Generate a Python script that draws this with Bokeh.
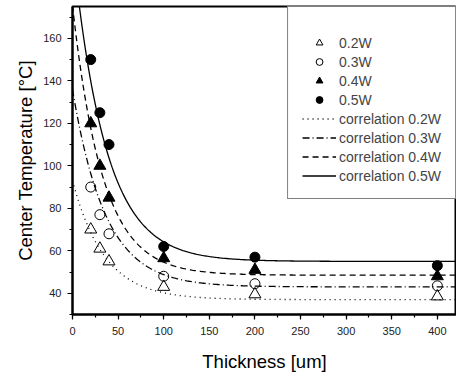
from bokeh.plotting import figure
from bokeh.models import Range1d, Legend, LegendItem, SingleIntervalTicker
from bokeh.embed import file_html
from bokeh.resources import INLINE
import numpy as np

# ---- data ----
thickness = [20, 30, 40, 100, 200, 400]
t_02w = [70, 61, 55, 43, 39.5, 38.5]
t_03w = [90, 77, 68, 48, 44.5, 43.5]
t_04w = [120, 100, 85, 56.5, 51, 48]
t_05w = [150, 125, 110, 62, 57, 53]
series_labels = ["0.2W", "0.3W", "0.4W", "0.5W"]

# correlation curves T = asymptote + amplitude * exp(-x / decay), parameters
corr_asym = [37, 43, 48.5, 55]
corr_amp = [56, 93, 127, 148]
corr_decay = [35, 36, 33, 36]
corr_labels = ["correlation 0.2W", "correlation 0.3W", "correlation 0.4W", "correlation 0.5W"]

FONT = "Liberation Sans"

p = figure(width=456, height=374, output_backend="svg", toolbar_location=None,
           x_range=Range1d(0, 421), y_range=Range1d(30, 175),
           min_border_left=72, min_border_right=0, min_border_top=6, min_border_bottom=57)
p.background_fill_color = "white"
p.border_fill_color = "white"
p.outline_line_color = "black"
p.outline_line_width = 2
p.xgrid.visible = False
p.ygrid.visible = False

for ax in (p.xaxis[0], p.yaxis[0]):
    ax.axis_line_width = 2
    ax.axis_line_color = "black"
    ax.major_tick_in = 0
    ax.major_tick_out = 5
    ax.minor_tick_in = 0
    ax.minor_tick_out = 3
    ax.major_tick_line_width = 1.2
    ax.minor_tick_line_width = 1.2
    ax.major_label_text_font = FONT
    ax.major_label_text_font_size = "11px"
    ax.major_label_text_color = "#222222"
    ax.axis_label_text_font = FONT
    ax.axis_label_text_font_size = "18.5px"
    ax.axis_label_text_font_style = "normal"
    ax.axis_label_text_color = "black"

p.xaxis.ticker = SingleIntervalTicker(interval=50, num_minor_ticks=2)
p.yaxis.ticker = SingleIntervalTicker(interval=20, num_minor_ticks=2)
p.xaxis.axis_label = "Thickness [um]"
p.yaxis.axis_label = "Center Temperature [°C]"
p.xaxis.major_label_standoff = 7
p.yaxis.major_label_standoff = 6
p.xaxis.axis_label_standoff = 13
p.yaxis.axis_label_standoff = 4

# correlation lines
xs = np.linspace(0, 421, 300)
dashes = ["1 4", "7 3 1 3", "6 4", "solid"]
line_rs = []
for a, b, c, d in zip(corr_asym, corr_amp, corr_decay, dashes):
    ys = a + b * np.exp(-xs / c)
    r = p.line(xs, ys, line_color="black", line_width=1.3, line_dash=d)
    line_rs.append(r)

# markers
marker_rs = []
marker_rs.append(p.scatter(thickness, t_02w, marker="triangle", size=12,
                           fill_color=None, line_color="black", line_width=1))
marker_rs.append(p.scatter(thickness, t_03w, marker="circle", size=10,
                           fill_color=None, line_color="black", line_width=1))
marker_rs.append(p.scatter(thickness, t_04w, marker="triangle", size=12,
                           fill_color="black", line_color="black"))
marker_rs.append(p.scatter(thickness, t_05w, marker="circle", size=10,
                           fill_color="black", line_color="black"))

items = [LegendItem(label=l, renderers=[r]) for l, r in zip(series_labels, marker_rs)]
items += [LegendItem(label=l, renderers=[r]) for l, r in zip(corr_labels, line_rs)]
legend = Legend(items=items, location="top_right", margin=0, padding=14,
                spacing=2, label_height=17, glyph_height=17, glyph_width=34,
                label_standoff=3, label_text_font=FONT, label_text_font_size="14px",
                title=" ", title_text_font_size="10px", title_standoff=2,
                border_line_color="black", border_line_width=1.2,
                background_fill_color="white", background_fill_alpha=1)
p.add_layout(legend, "center")

open("out.html", "w").write(file_html(p, INLINE))
